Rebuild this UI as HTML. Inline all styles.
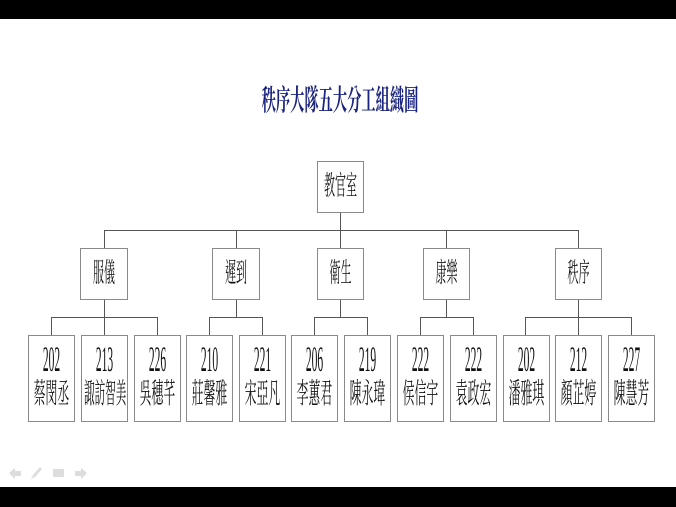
<!DOCTYPE html>
<html><head><meta charset="utf-8"><style>
html,body{margin:0;padding:0}
body{width:676px;height:507px;position:relative;background:#fff;overflow:hidden;font-family:"Liberation Serif","Noto Serif CJK TC","Noto Sans CJK TC",serif}
.bar{position:absolute;left:0;width:676px;background:#000}
.b{position:absolute;box-sizing:border-box;border:1px solid #8a8a8a;background:#fff;text-align:center;color:#111}
.t{position:absolute;left:-20px;right:-20px;white-space:nowrap;text-align:center;transform-origin:center center}
.n{font-size:36px;line-height:36px;top:5px;transform:scaleX(0.32);font-family:"Liberation Sans Narrow","Liberation Serif",serif}
.m{font-size:22px;line-height:24px;top:46px;transform:scale(0.54,1.3)}
.l2 .t{font-size:20px;line-height:22px;top:14px;transform:scale(0.55,1.35)}
</style></head><body>
<div class="bar" style="top:0;height:19px"></div>
<div class="bar" style="top:487px;height:20px"></div>
<div style="position:absolute;left:190px;top:86px;width:300px;line-height:30px;text-align:center;font-size:23px;color:#1a237e;font-weight:bold;white-space:nowrap;transform:scale(0.62,1.25)">秩序大隊五大分工組織圖</div>
<svg width="676" height="507" style="position:absolute;left:0;top:0">
<g stroke="#555" stroke-width="1" fill="none">
<line x1="340.5" y1="212" x2="340.5" y2="230.5"/>
<line x1="104.5" y1="230.5" x2="578.5" y2="230.5"/>
<line x1="104.5" y1="230" x2="104.5" y2="248"/>
<line x1="236.5" y1="230" x2="236.5" y2="248"/>
<line x1="340.5" y1="230" x2="340.5" y2="248"/>
<line x1="446.5" y1="230" x2="446.5" y2="248"/>
<line x1="578.5" y1="230" x2="578.5" y2="248"/>
<line x1="104.5" y1="299" x2="104.5" y2="335"/>
<line x1="51.5" y1="317.5" x2="157.5" y2="317.5"/><line x1="51.5" y1="317" x2="51.5" y2="335"/><line x1="157.5" y1="317" x2="157.5" y2="335"/>
<line x1="236.5" y1="299" x2="236.5" y2="317.5"/>
<line x1="209.5" y1="317.5" x2="262.5" y2="317.5"/><line x1="209.5" y1="317" x2="209.5" y2="335"/><line x1="262.5" y1="317" x2="262.5" y2="335"/>
<line x1="340.5" y1="299" x2="340.5" y2="317.5"/>
<line x1="314.5" y1="317.5" x2="367.5" y2="317.5"/><line x1="314.5" y1="317" x2="314.5" y2="335"/><line x1="367.5" y1="317" x2="367.5" y2="335"/>
<line x1="446.5" y1="299" x2="446.5" y2="317.5"/>
<line x1="420.5" y1="317.5" x2="473.5" y2="317.5"/><line x1="420.5" y1="317" x2="420.5" y2="335"/><line x1="473.5" y1="317" x2="473.5" y2="335"/>
<line x1="578.5" y1="299" x2="578.5" y2="335"/>
<line x1="525.5" y1="317.5" x2="631.5" y2="317.5"/><line x1="525.5" y1="317" x2="525.5" y2="335"/><line x1="631.5" y1="317" x2="631.5" y2="335"/>
</g>
<g fill="#ddd">
<polygon points="9,473 15,468 15,471 21,471 21,476 15,476 15,479"/>
<polygon points="31,479 33,475 40,467 42,469 35,477"/>
<rect x="53" y="469" width="11" height="8"/>
<polygon points="87,473 81,468 81,471 75,471 75,476 81,476 81,479"/>
</g>
</svg>
<div class="b l2" style="left:317px;top:161px;width:47px;height:52px"><div class="t">教官室</div></div>
<div class="b l2" style="left:80px;top:248px;width:48px;height:52px"><div class="t">服儀</div></div>
<div class="b l2" style="left:212px;top:248px;width:48px;height:52px"><div class="t">遲到</div></div>
<div class="b l2" style="left:317px;top:248px;width:47px;height:52px"><div class="t">衛生</div></div>
<div class="b l2" style="left:423px;top:248px;width:47px;height:52px"><div class="t">康樂</div></div>
<div class="b l2" style="left:555px;top:248px;width:47px;height:52px"><div class="t">秩序</div></div>

<div class="b" style="left:28px;top:335px;width:47px;height:87px"><div class="t n">202</div><div class="t m">蔡閔丞</div></div>
<div class="b" style="left:81px;top:335px;width:47px;height:87px"><div class="t n">213</div><div class="t m" style="transform:scale(0.48,1.3)">諏訪智美</div></div>
<div class="b" style="left:134px;top:335px;width:47px;height:87px"><div class="t n">226</div><div class="t m">吳穗芊</div></div>
<div class="b" style="left:186px;top:335px;width:47px;height:87px"><div class="t n">210</div><div class="t m">莊馨雅</div></div>
<div class="b" style="left:239px;top:335px;width:47px;height:87px"><div class="t n">221</div><div class="t m">宋亞凡</div></div>
<div class="b" style="left:291px;top:335px;width:47px;height:87px"><div class="t n">206</div><div class="t m">李蕙君</div></div>
<div class="b" style="left:344px;top:335px;width:47px;height:87px"><div class="t n">219</div><div class="t m">陳永瑋</div></div>
<div class="b" style="left:397px;top:335px;width:47px;height:87px"><div class="t n">222</div><div class="t m">侯信宇</div></div>
<div class="b" style="left:450px;top:335px;width:47px;height:87px"><div class="t n">222</div><div class="t m">袁政宏</div></div>
<div class="b" style="left:503px;top:335px;width:47px;height:87px"><div class="t n">202</div><div class="t m">潘雅琪</div></div>
<div class="b" style="left:555px;top:335px;width:47px;height:87px"><div class="t n">212</div><div class="t m">顏芷婷</div></div>
<div class="b" style="left:608px;top:335px;width:47px;height:87px"><div class="t n">227</div><div class="t m">陳慧芳</div></div>
</body></html>
